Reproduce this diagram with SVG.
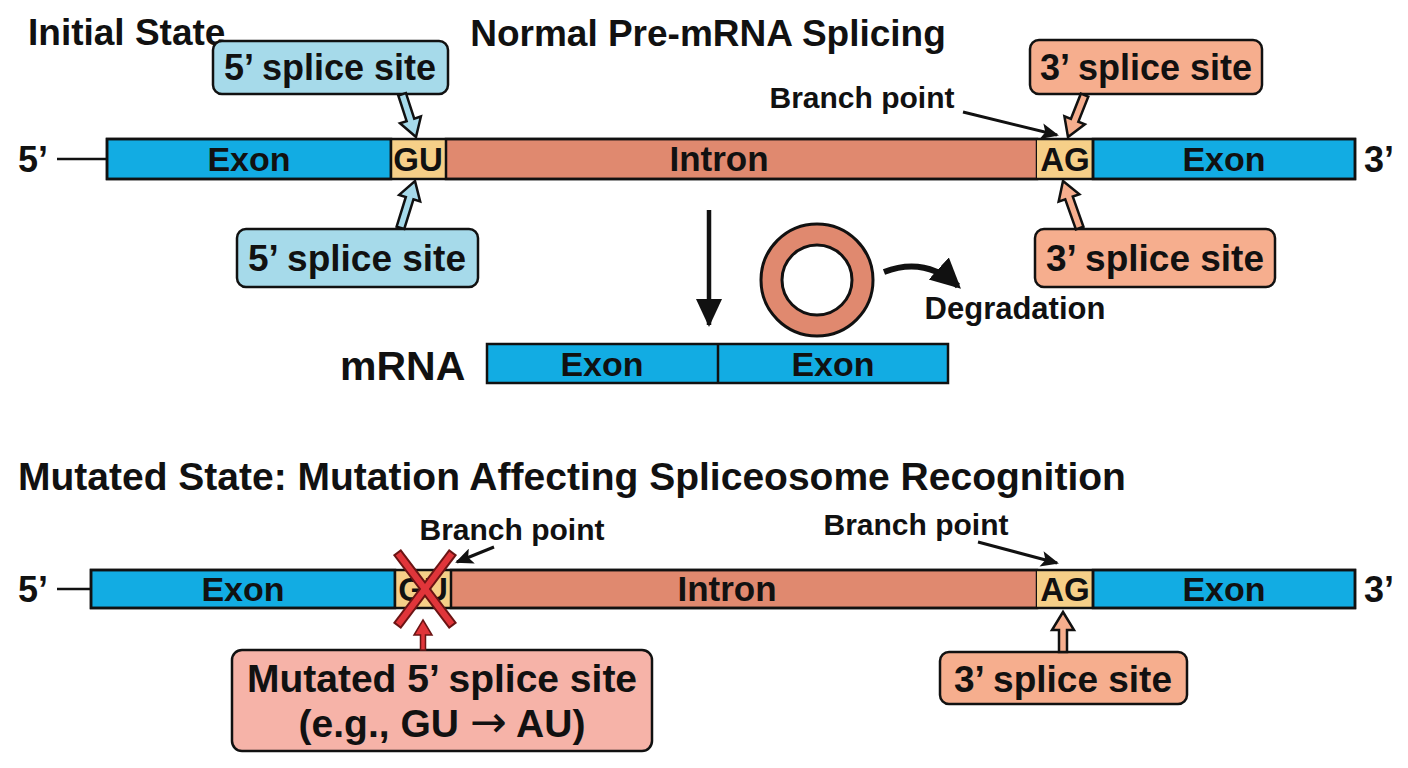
<svg xmlns="http://www.w3.org/2000/svg" width="1408" height="768" viewBox="0 0 1408 768">
<style>
text{font-family:"Liberation Sans",Arial,sans-serif;font-weight:bold;fill:#111}
.exon{fill:#12ACE3;stroke:#111;stroke-width:2.5}
.intron{fill:#E0896F;stroke:#111;stroke-width:2.5}
.site{fill:#F6CF88}
.bt{font-size:34px;text-anchor:middle}
.lbl{font-size:36px;text-anchor:middle}
.ttl{font-size:37px}
.bp{font-size:30px;text-anchor:middle}
.blue{fill:#A6DAEA;stroke:#111;stroke-width:2.5}
.orange{fill:#F6AE8E;stroke:#111;stroke-width:2.5}
.red{fill:#F6B3A8;stroke:#111;stroke-width:2.5}
.ln{stroke:#111;stroke-width:2.5;fill:none}
.ln3{stroke:#111;stroke-width:3;fill:none}
.arr{font-family:"DejaVu Sans",sans-serif;font-size:44px;font-weight:normal}
</style>
<defs>
<marker id="ah" markerUnits="userSpaceOnUse" markerWidth="20" markerHeight="16" refX="16" refY="8" orient="auto"><path d="M0,0 L18,8 L0,16 L4,8 Z" fill="#111"/></marker>
<marker id="ahBig" markerUnits="userSpaceOnUse" markerWidth="30" markerHeight="32" refX="26" refY="13" orient="auto"><path d="M0,0 L28,13 L0,26 Z" fill="#111"/></marker>
<marker id="ahCurve" markerUnits="userSpaceOnUse" markerWidth="34" markerHeight="34" refX="26" refY="15" orient="auto"><path d="M0,0 L30,15 L0,30 Z" fill="#111"/></marker>
</defs>
<rect width="1408" height="768" fill="#fff"/>

<g id="titles">
<text class="ttl" x="28" y="45">Initial State</text>
<text class="ttl" x="708" y="46" text-anchor="middle">Normal Pre-mRNA Splicing</text>
<text class="ttl" x="18" y="490" style="font-size:39px">Mutated State: Mutation Affecting Spliceosome Recognition</text>
</g>

<g id="premrna-top">
<text x="18" y="172" style="font-size:36px">5’</text>
<line class="ln" x1="57" y1="159" x2="107" y2="159"/>
<rect class="exon" x="107" y="139" width="284" height="40"/>
<rect class="site" x="391" y="139" width="55" height="40"/>
<rect class="intron" x="446" y="139" width="591" height="40" stroke="none"/>
<rect class="site" x="1037" y="139" width="56" height="40"/>
<rect class="exon" x="1093" y="139" width="262" height="40"/>
<rect x="107" y="139" width="1248" height="40" fill="none" stroke="#111" stroke-width="2.5"/>
<line class="ln" x1="391" y1="139" x2="391" y2="179"/>
<line class="ln" x1="1093" y1="139" x2="1093" y2="179"/>
<text class="bt" x="249" y="171">Exon</text>
<text class="bt" x="418" y="171" style="font-size:33px">GU</text>
<text class="bt" x="719" y="171" style="font-size:35px">Intron</text>
<text class="bt" x="1065" y="171" style="font-size:33px">AG</text>
<text class="bt" x="1224" y="171">Exon</text>
<text x="1364" y="172" style="font-size:36px">3’</text>
</g>

<g id="label-5ss-top">
<rect class="blue" x="213" y="41" width="235" height="53" rx="9"/>
<text class="lbl" x="330" y="80">5’ splice site</text>
<path class="blue" transform="translate(416,137) rotate(162)" d="M0,0 L11,18 L4,18 L4,45 L-4,45 L-4,18 L-11,18 Z"/>
</g>

<g id="label-5ss-bottom">
<rect class="blue" x="237" y="229" width="241" height="58" rx="9"/>
<text class="lbl" x="357" y="271" style="font-size:37px">5’ splice site</text>
<path class="blue" transform="translate(415,181) rotate(17.3)" d="M0,0 L11,18 L4,18 L4,49 L-4,49 L-4,18 L-11,18 Z"/>
</g>

<g id="label-3ss-top">
<rect class="orange" x="1030" y="40" width="232" height="54" rx="9"/>
<text class="lbl" x="1146" y="80">3’ splice site</text>
<path class="orange" transform="translate(1068,137) rotate(201.6)" d="M0,0 L11,18 L4,18 L4,45 L-4,45 L-4,18 L-11,18 Z"/>
</g>

<g id="label-3ss-bottom">
<rect class="orange" x="1035" y="229" width="240" height="58" rx="9"/>
<text class="lbl" x="1155" y="271" style="font-size:37px">3’ splice site</text>
<path class="orange" transform="translate(1063,181) rotate(-19.5)" d="M0,0 L11,18 L4,18 L4,50 L-4,50 L-4,18 L-11,18 Z"/>
</g>

<g id="branch-top">
<text class="bp" x="862" y="108">Branch point</text>
</g>

<g id="lariat">
<circle cx="817" cy="280" r="56" fill="#E0896F" stroke="#111" stroke-width="3"/>
<circle cx="817" cy="280" r="35" fill="#fff" stroke="#111" stroke-width="3"/>
</g>

<g id="degradation">
<text class="bp" x="1015" y="319" style="font-size:31px">Degradation</text>
</g>

<g id="mrna">
<text x="340" y="380" style="font-size:41px">mRNA</text>
<rect class="exon" x="487" y="344" width="461" height="39"/>
<line class="ln" x1="718" y1="344" x2="718" y2="383"/>
<text class="bt" x="602" y="376">Exon</text>
<text class="bt" x="833" y="376">Exon</text>
</g>

<g id="premrna-mutated">
<text x="18" y="602" style="font-size:36px">5’</text>
<line class="ln" x1="57" y1="589" x2="91" y2="589"/>
<rect class="exon" x="91" y="570" width="304" height="38"/>
<rect class="site" x="395" y="570" width="56" height="38"/>
<rect class="intron" x="451" y="570" width="586" height="38" stroke="none"/>
<rect class="site" x="1037" y="570" width="56" height="38"/>
<rect class="exon" x="1093" y="570" width="262" height="38"/>
<rect x="91" y="570" width="1264" height="38" fill="none" stroke="#111" stroke-width="2.5"/>
<line class="ln" x1="395" y1="570" x2="395" y2="608"/>
<line class="ln" x1="1093" y1="570" x2="1093" y2="608"/>
<text class="bt" x="243" y="601">Exon</text>
<text class="bt" x="423" y="601" style="font-size:33px">GU</text>
<text class="bt" x="727" y="601" style="font-size:35px">Intron</text>
<text class="bt" x="1065" y="601" style="font-size:33px">AG</text>
<text class="bt" x="1224" y="601">Exon</text>
<text x="1364" y="602" style="font-size:36px">3’</text>
</g>

<g id="mutation-x">
<line x1="400" y1="556" x2="450" y2="622" stroke="#6b1414" stroke-width="10" stroke-linecap="square"/>
<line x1="450" y1="556" x2="400" y2="622" stroke="#6b1414" stroke-width="10" stroke-linecap="square"/>
<line x1="400" y1="556" x2="450" y2="622" stroke="#E0353A" stroke-width="6" stroke-linecap="square"/>
<line x1="450" y1="556" x2="400" y2="622" stroke="#E0353A" stroke-width="6" stroke-linecap="square"/>
</g>

<g id="branch-mut-left">
<text class="bp" x="512" y="540">Branch point</text>
</g>
<g id="branch-mut-right">
<text class="bp" x="916" y="535">Branch point</text>
</g>

<g id="label-mutated-5ss">
<rect class="red" x="232" y="650" width="420" height="101" rx="10"/>
<text class="lbl" x="442" y="692" style="font-size:39px">Mutated 5’ splice site</text>
<text class="lbl" x="442" y="737" style="font-size:39px">(e.g., GU <tspan class="arr">→</tspan> AU)</text>
<path transform="translate(423,620)" d="M0,0 L9,15 L2.5,15 L2.5,30 L-2.5,30 L-2.5,15 L-9,15 Z" fill="#E0353A" stroke="#6b1414" stroke-width="1.5"/>
</g>

<g id="label-3ss-mut">
<rect class="orange" x="940" y="652" width="247" height="52" rx="9"/>
<text class="lbl" x="1063" y="692" style="font-size:37px">3’ splice site</text>
<path class="orange" transform="translate(1063,612)" d="M0,0 L11,18 L4,18 L4,40 L-4,40 L-4,18 L-11,18 Z"/>
</g>

<g id="connectors">
<line class="ln3" x1="963" y1="112" x2="1057" y2="135" marker-end="url(#ah)"/>
<line class="ln3" x1="709" y1="210" x2="709" y2="325" style="stroke-width:4.5" marker-end="url(#ahBig)"/>
<path class="ln3" d="M884,272 Q925,256 958,286" style="stroke-width:6" marker-end="url(#ahCurve)"/>
<line class="ln3" x1="494" y1="547" x2="457" y2="562" marker-end="url(#ah)"/>
<line class="ln3" x1="978" y1="542" x2="1057" y2="563" marker-end="url(#ah)"/>
</g>
</svg>
